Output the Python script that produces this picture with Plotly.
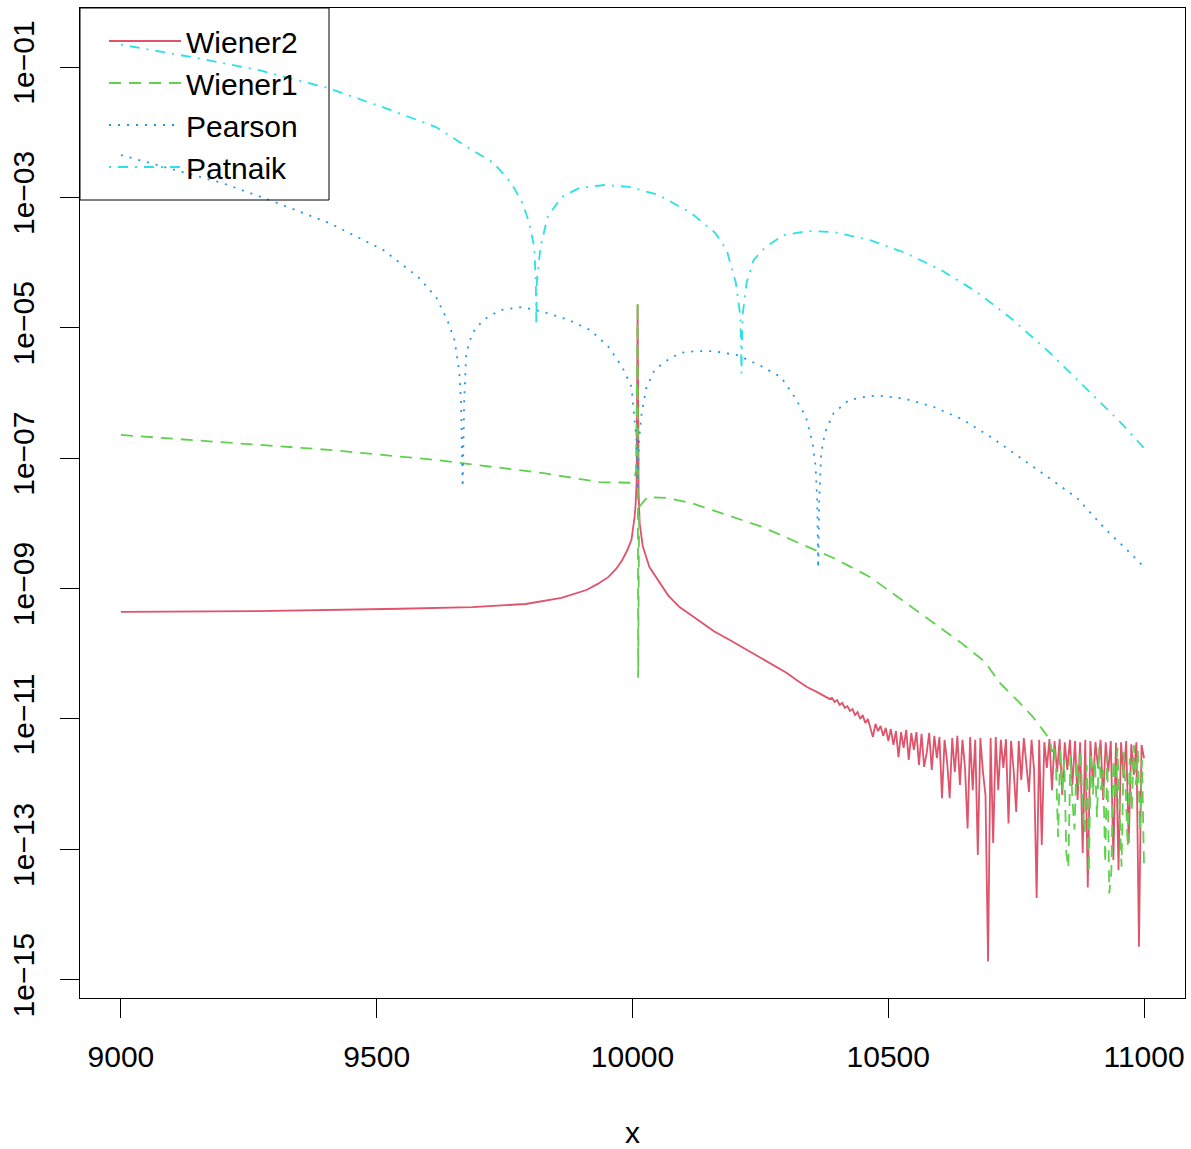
import numpy as np
import plotly.graph_objects as go

# ---------------- data ----------------
# Wiener2 (smooth part)
wiener2_x = [9000, 9268, 9546, 9687, 9791, 9861, 9910, 9932, 9953, 9968, 9980, 9990, 9998, 10001,
             10004, 10006, 10008, 10010, 10012, 10014, 10020, 10033, 10053, 10070, 10092, 10137,
             10160, 10190, 10220, 10249, 10275, 10301, 10320, 10341, 10360]
wiener2_y = [4.4e-10, 4.5e-10, 4.9e-10, 5.2e-10, 5.8e-10, 7.2e-10, 9.5e-10, 1.18e-9, 1.51e-9, 2.0e-9,
             2.75e-9, 3.9e-9, 5.6e-9, 7.9e-9, 1.25e-8, 1.9e-8, 4.2e-8, 2.24e-5, 2.9e-8, 1.0e-8,
             4.5e-9, 2.14e-9, 1.22e-9, 7.8e-10, 5.2e-10, 3.0e-10, 2.2e-10, 1.63e-10, 1.19e-10,
             8.9e-11, 6.7e-11, 5.1e-11, 4.0e-11, 3.1e-11, 2.6e-11]
# Wiener2 (noisy tail, x from 10380 to 11000 in steps of 5)
wiener2_tail_start, wiener2_tail_end = 10380, 11000
wiener2_tail = [
    2.17e-11, 2.03e-11, 2.10e-11, 1.82e-11, 1.95e-11, 1.64e-11, 1.76e-11, 1.48e-11, 1.58e-11, 1.33e-11,
    1.42e-11, 1.15e-11, 1.28e-11, 1.0e-11, 1.15e-11, 8.7e-12, 1.0e-11, 7.0e-12, 5.3e-12, 8.4e-12,
    6.5e-12, 7.8e-12, 5.5e-12, 7.3e-12, 4.6e-12, 7.0e-12, 4.0e-12, 6.5e-12, 2.6e-12, 6.3e-12,
    3.6e-12, 6.8e-12, 2.35e-12, 6.1e-12, 3.35e-12, 6.3e-12, 1.97e-12, 5.9e-12, 1.84e-12, 3.0e-12,
    6.1e-12, 1.65e-12, 5.5e-12, 2.5e-12, 5.3e-12, 6.1e-13, 4.8e-12, 2.2e-12, 6.1e-13, 5.1e-12,
    1.54e-12, 5.5e-12, 9.7e-13, 4.8e-12, 1.77e-12, 2.1e-13, 5.3e-12, 8.1e-13, 4.8e-12, 8.2e-14,
    5.1e-12, 1.54e-12, 6.8e-13, 1.9e-15, 5.1e-12, 1.25e-13, 5.3e-12, 8.1e-13, 4.8e-12, 1.77e-12,
    4.9e-12, 2.5e-13, 4.6e-12, 1.65e-12, 3.75e-13, 4.6e-12, 1.16e-12, 5.1e-12, 1.97e-12, 7.6e-13,
    4.8e-12, 1.65e-12, 1.8e-14, 4.8e-12, 1.17e-13, 4.4e-12, 1.77e-12, 4.9e-12, 8.1e-13, 4.6e-12,
    1.54e-12, 4.9e-12, 6.8e-13, 4.4e-12, 1.65e-12, 4.8e-12, 9.7e-13, 4.6e-12, 5.7e-13, 4.4e-12,
    8.8e-14, 4.8e-12, 2.6e-14, 4.6e-12, 9.7e-13, 4.4e-12, 1.77e-12, 4.8e-12, 5.7e-13, 4.4e-12,
    1.54e-12, 4.6e-12, 6.9e-14, 4.3e-12, 4.8e-14, 4.4e-12, 1.25e-12, 4.6e-12, 1.25e-13, 4.1e-12,
    1.38e-12, 4.4e-12, 3.2e-15, 4.0e-12, 2.5e-12]

# Wiener1 (smooth part)
wiener1_x = [9000, 9198, 9407, 9616, 9826, 9935, 9994, 10004, 10007, 10010, 10011, 10013, 10029,
             10067, 10114, 10184, 10254, 10325, 10393, 10464, 10526, 10581, 10640, 10689, 10718,
             10757, 10783, 10802]
wiener1_y = [2.27e-7, 1.77e-7, 1.34e-7, 9.4e-8, 5.9e-8, 4.3e-8, 4.2e-8, 5.0e-8, 6.6e-8, 2.49e-5,
             4.3e-11, 1.78e-8, 2.54e-8, 2.45e-8, 2.06e-8, 1.35e-8, 8.8e-9, 5.0e-9, 2.94e-9, 1.51e-9,
             6.7e-10, 3.3e-10, 1.52e-10, 7.5e-11, 3.56e-11, 1.76e-11, 1.07e-11, 6.8e-12]
# Wiener1 (noisy tail, x from 10816 to 11000 in steps of 4)
wiener1_tail_start, wiener1_tail_end = 10816, 11000
wiener1_tail = [
    4.8e-12, 3.1e-12, 4.0e-12, 1.65e-12, 1.55e-13, 3.6e-12, 8.1e-13, 2.35e-12, 8.8e-14, 5.2e-14,
    2.8e-12, 5.7e-13, 2.0e-13, 2.35e-12, 9.7e-13, 3.35e-12, 4.0e-13, 1.79e-13, 1.97e-12, 4.3e-14,
    3.1e-12, 6.8e-13, 2.35e-12, 3.1e-13, 3.6e-12, 8.1e-13, 1.65e-12, 6.2e-14, 2.8e-12, 2.1e-14,
    4.5e-14, 2.35e-12, 5.7e-13, 3.6e-12, 2.8e-13, 5.4e-14, 3.1e-12, 8.1e-13, 1.09e-13, 2.5e-12,
    4.0e-13, 4.0e-12, 9.7e-13, 3.35e-12, 2.0e-13, 2.35e-12, 4.8e-14]

# Pearson
pearson_x = [9000, 9086, 9198, 9301, 9407, 9513, 9581, 9616, 9638, 9652, 9661, 9665, 9668, 9671,
             9675, 9687, 9708, 9742, 9785, 9826, 9875, 9918, 9953, 9980, 9998, 10004, 10008,
             10010, 10013, 10018, 10027, 10043, 10063, 10092, 10125, 10157, 10205, 10247, 10290,
             10317, 10339, 10352, 10358, 10361, 10363, 10365, 10369, 10376, 10393, 10423, 10464,
             10491, 10534, 10589, 10646, 10701, 10757, 10814, 10869, 10926, 10967, 11000]
pearson_y = [4.47e-3, 2.92e-3, 1.66e-3, 8.5e-4, 4.05e-4, 1.56e-4, 6.0e-5, 2.96e-5, 1.32e-5, 6.5e-6,
             2.25e-6, 7.0e-7, 3.6e-8, 8.0e-7, 4.1e-6, 8.3e-6, 1.32e-5, 1.87e-5, 2.08e-5, 1.75e-5,
             1.32e-5, 9.2e-6, 5.1e-6, 2.5e-6, 1.24e-6, 3.9e-7, 1.9e-7, 3.25e-8, 2.0e-7, 4.9e-7,
             1.19e-6, 2.25e-6, 3.0e-6, 4.1e-6, 4.4e-6, 4.4e-6, 3.8e-6, 2.7e-6, 1.76e-6, 8.7e-7,
             4.3e-7, 1.71e-7, 7.3e-8, 2.3e-8, 2.07e-9, 2.3e-8, 1.2e-7, 2.44e-7, 4.9e-7, 7.8e-7,
             9.0e-7, 9.0e-7, 8.1e-7, 6.1e-7, 3.9e-7, 2.1e-7, 1.04e-7, 5.0e-8, 2.45e-8, 7.9e-9,
             3.9e-9, 2.14e-9]

# Patnaik
patnaik_x = [9000, 9149, 9268, 9399, 9513, 9616, 9687, 9728, 9763, 9785, 9798, 9808, 9811, 9812,
             9813, 9820, 9834, 9861, 9896, 9945, 9994, 10051, 10114, 10162, 10184, 10202, 10211,
             10213, 10215, 10223, 10237, 10260, 10296, 10344, 10393, 10464, 10534, 10603, 10673,
             10744, 10814, 10883, 10953, 11000]
patnaik_y = [2.2e-1, 1.37e-1, 9.0e-2, 4.9e-2, 2.4e-2, 1.2e-2, 5.3e-3, 3.4e-3, 1.66e-3, 8.2e-4,
             4.05e-4, 1.73e-4, 5.0e-5, 1.1e-5, 5.0e-5, 1.73e-4, 5.0e-4, 1.01e-3, 1.39e-3, 1.55e-3,
             1.45e-3, 1.09e-3, 5.8e-4, 2.84e-4, 1.56e-4, 4.9e-5, 1.47e-5, 2.0e-6, 1.5e-5, 4.9e-5,
             1.1e-4, 1.73e-4, 2.65e-4, 3.05e-4, 2.94e-4, 2.22e-4, 1.40e-4, 7.7e-5, 3.54e-5, 1.32e-5,
             4.26e-6, 1.24e-6, 3.6e-7, 1.43e-7]

x_ticks = [9000, 9500, 10000, 10500, 11000]
y_ticks = [1e-1, 1e-3, 1e-5, 1e-7, 1e-9, 1e-11, 1e-13, 1e-15]
y_ticktext = ["1e\u221201", "1e\u221203", "1e\u221205", "1e\u221207",
              "1e\u221209", "1e\u221211", "1e\u221213", "1e\u221215"]
series_names = ["Wiener2", "Wiener1", "Pearson", "Patnaik"]

# ---------------- assemble ----------------
w2x = list(wiener2_x) + list(np.linspace(wiener2_tail_start, wiener2_tail_end, len(wiener2_tail)))
w2y = list(wiener2_y) + list(wiener2_tail)
w1x = list(wiener1_x) + list(np.linspace(wiener1_tail_start, wiener1_tail_end, len(wiener1_tail)))
w1y = list(wiener1_y) + list(wiener1_tail)

colors = ["#DF536B", "#61D04F", "#2297E6", "#28E2E5"]
dashes = ["solid", "12px,8px", "2px,7px", "2px,7px,10px,7px"]
data = [(w2x, w2y), (w1x, w1y), (pearson_x, pearson_y), (patnaik_x, patnaik_y)]

FONT = "Liberation Sans, Arial, Helvetica, sans-serif"

fig = go.Figure()
for (xs, ys), name, c, d in zip(data, series_names, colors, dashes):
    fig.add_trace(go.Scatter(x=xs, y=ys, mode="lines", name=name,
                             line=dict(color=c, width=1.8, dash=d)))

fig.update_layout(
    width=1191, height=1149,
    margin=dict(l=80, r=6, t=8, b=151, autoexpand=False),
    paper_bgcolor="white", plot_bgcolor="white",
    font=dict(family=FONT, size=30, color="black"),
    showlegend=True,
    legend=dict(x=(104 - 80) / 1105, y=1 - (15 - 8) / 990, xanchor="left", yanchor="top",
                bgcolor="rgba(0,0,0,0)", borderwidth=0,
                font=dict(family=FONT, size=30, color="black"),
                itemwidth=72, tracegroupgap=0),
    shapes=[dict(type="rect", xref="paper", yref="paper",
                 x0=0, x1=(329 - 80) / 1105, y0=1 - (200 - 8) / 990, y1=1,
                 line=dict(color="black", width=1), fillcolor="rgba(0,0,0,0)", layer="above")],
)
fig.update_xaxes(range=[8920, 11080], tickvals=x_ticks, ticktext=[str(v) for v in x_ticks],
                 showgrid=False, zeroline=False, showline=True, mirror=True,
                 linecolor="black", linewidth=1, ticks="outside", ticklen=19,
                 tickcolor="black", tickwidth=1, ticklabelstandoff=13,
                 title=dict(text="x", standoff=52, font=dict(family=FONT, size=30)),
                 tickfont=dict(family=FONT, size=30))
fig.update_yaxes(type="log", range=[-15.28, -0.095], tickvals=y_ticks, ticktext=y_ticktext,
                 tickangle=-90, showgrid=False, zeroline=False, showline=True, mirror=True,
                 linecolor="black", linewidth=1, ticks="outside", ticklen=19,
                 tickcolor="black", tickwidth=1, ticklabelstandoff=14,
                 tickfont=dict(family=FONT, size=30))

# remove the default page margin so the figure sits at the window's top-left corner
fig.write_html("out.html",
               config={"displayModeBar": False},
               post_script="document.body.style.margin='0';"
                           "document.documentElement.style.overflow='hidden';")
